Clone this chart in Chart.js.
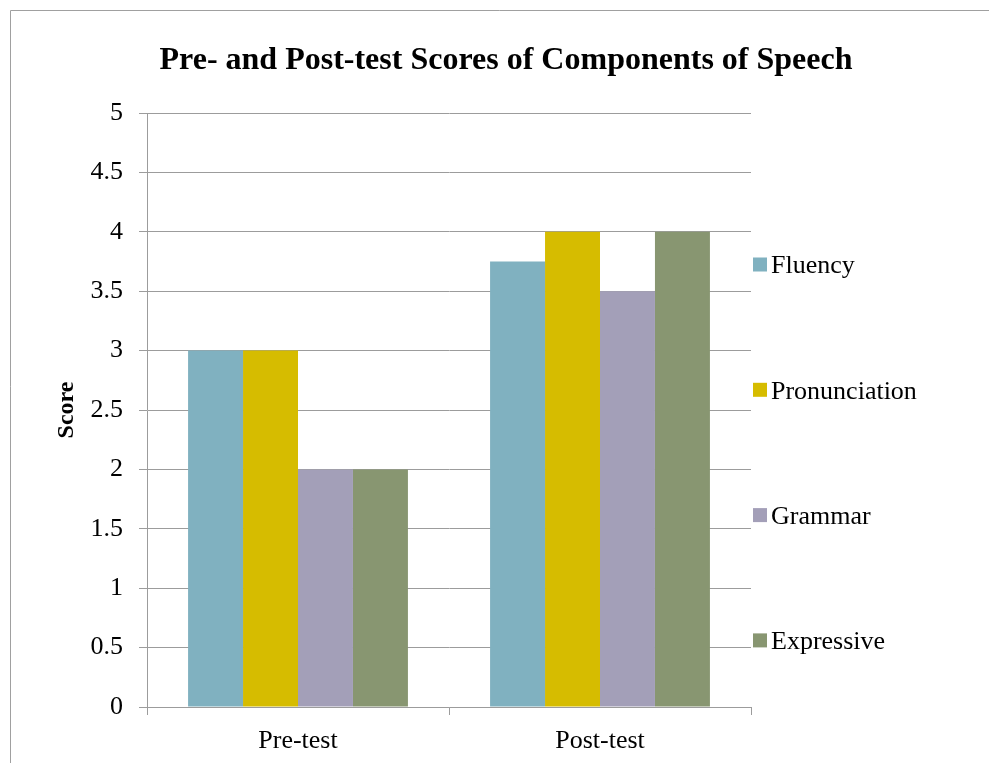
<!DOCTYPE html>
<html>
<head>
<meta charset="utf-8">
<script src="https://cdn.jsdelivr.net/npm/chart.js@4.4.1/dist/chart.umd.min.js"></script>
<style>
  html, body { margin: 0; padding: 0; background: #fff; }
  #wrap { width: 989px; height: 763px; position: relative; }
</style>
</head>
<body>
<div id="wrap"><canvas id="chart" width="989" height="763"></canvas></div>
<script>
// ── Data ──────────────────────────────────────────
const categories = ['Pre-test', 'Post-test'];
const seriesNames = ['Fluency', 'Pronunciation', 'Grammar', 'Expressive'];
const fluency = [3, 3.75];
const pronunciation = [3, 4];
const grammar = [2, 3.5];
const expressive = [2, 4];
const yTicks = [0, 0.5, 1, 1.5, 2, 2.5, 3, 3.5, 4, 4.5, 5];

const colors = ['#80B1C0', '#D6BC00', '#A39FB8', '#889671'];
const serif = '"Liberation Serif", "Times New Roman", serif';
const gridColor = '#9C9C9C';

// ── Plugins ───────────────────────────────────────
// outer frame (top + left edge only, as in the picture)
const framePlugin = {
  id: 'frame',
  afterLayout(chart) {
    // title is centred on the whole frame, not only on the plot + padding
    chart.titleBlock.left = 12;
    chart.titleBlock.right = 1000;
  },
  beforeDraw(chart) {
    const ctx = chart.ctx;
    ctx.save();
    ctx.strokeStyle = '#A0A0A0';
    ctx.lineWidth = 1;
    ctx.beginPath();
    ctx.moveTo(10.5, chart.height);
    ctx.lineTo(10.5, 10.5);
    ctx.lineTo(chart.width, 10.5);
    ctx.stroke();
    ctx.restore();
  }
};

// legend on the right, spread over the plot height
const legendPlugin = {
  id: 'sideLegend',
  afterDraw(chart) {
    const ctx = chart.ctx;
    const x = chart.chartArea.right + 2;
    const firstY = 264.5;
    const step = 125.3;
    ctx.save();
    ctx.font = '26px ' + serif;
    ctx.textBaseline = 'middle';
    ctx.textAlign = 'left';
    chart.data.datasets.forEach((ds, i) => {
      const cy = firstY + i * step;
      ctx.fillStyle = ds.backgroundColor;
      ctx.fillRect(x, cy - 7, 14, 14);
      ctx.fillStyle = '#000';
      ctx.fillText(ds.label, x + 18, cy + 2);
    });
    ctx.restore();
  }
};

// ── Chart ─────────────────────────────────────────
const seriesValues = [fluency, pronunciation, grammar, expressive];

new Chart(document.getElementById('chart'), {
  type: 'bar',
  data: {
    labels: categories,
    datasets: seriesNames.map((name, i) => ({
      label: name,
      data: seriesValues[i],
      backgroundColor: colors[i],
      borderWidth: 0
    }))
  },
  options: {
    responsive: false,
    animation: false,
    layout: { padding: { left: 0, right: 238, top: 0, bottom: 0 } },
    datasets: {
      bar: { categoryPercentage: 0.728, barPercentage: 1 }
    },
    plugins: {
      legend: { display: false },
      tooltip: { enabled: false },
      title: {
        display: true,
        text: 'Pre- and Post-test Scores of Components of Speech',
        color: '#000',
        font: { family: serif, size: 32, weight: 'bold' },
        padding: { top: 42, bottom: 32.6 }
      }
    },
    scales: {
      x: {
        grid: {
          display: true,
          drawOnChartArea: false,
          color: gridColor,
          tickLength: 8,
          offset: true
        },
        border: { color: gridColor, width: 1 },
        ticks: {
          color: '#000',
          font: { family: serif, size: 26 },
          padding: 11
        },
        afterFit(scale) { scale.height = 56; }
      },
      y: {
        min: 0,
        max: 5,
        afterBuildTicks(scale) {
          scale.ticks = yTicks.map(v => ({ value: v }));
        },
        grid: { color: gridColor, tickLength: 8 },
        border: { color: gridColor, width: 1 },
        ticks: {
          color: '#000',
          font: { family: serif, size: 26 },
          padding: 16,
          callback: v => String(v)
        },
        title: {
          display: true,
          text: 'Score',
          color: '#000',
          font: { family: serif, size: 24, weight: 'bold' },
          padding: { top: 52, bottom: 0 }
        },
        afterFit(scale) { scale.width = 147; }
      }
    }
  },
  plugins: [framePlugin, legendPlugin]
});
</script>
</body>
</html>
